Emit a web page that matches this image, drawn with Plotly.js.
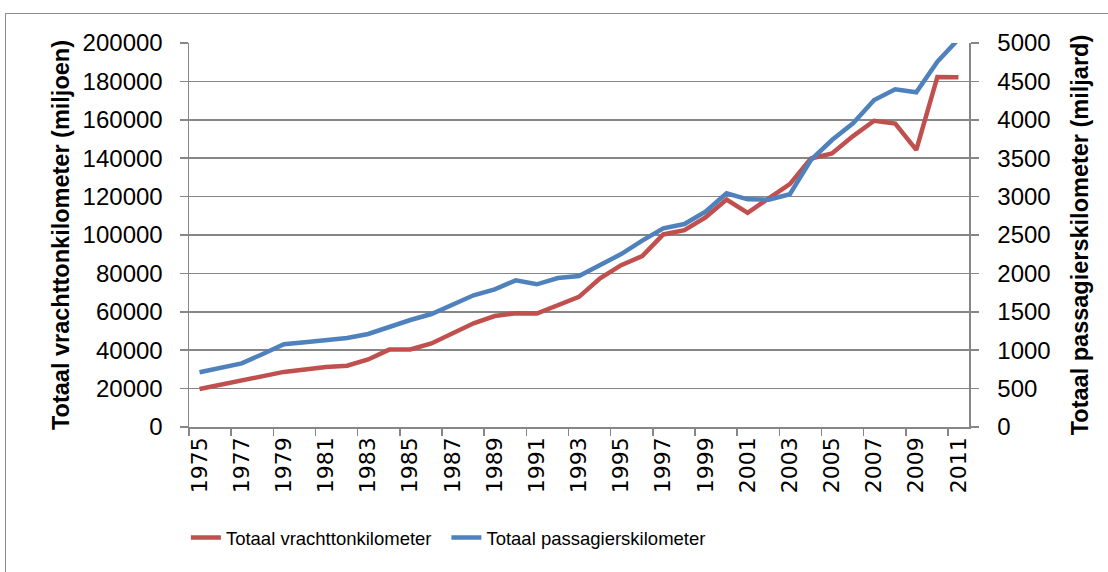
<!DOCTYPE html>
<html>
<head>
<meta charset="utf-8">
<script src="https://cdn.plot.ly/plotly-3.0.1.min.js"></script>
<style>
html,body{margin:0;padding:0;background:#fff;}
#frame{position:absolute;left:5px;top:13px;width:1200px;height:700px;border-left:1px solid #8c8c8c;border-top:1px solid #8c8c8c;pointer-events:none;}
#chart{position:absolute;left:0;top:0;width:1108px;height:572px;}
</style>
</head>
<body>
<div id="chart"></div>
<div id="frame"></div>
<script>
const years = [1975,1976,1977,1978,1979,1980,1981,1982,1983,1984,1985,1986,1987,1988,1989,1990,1991,1992,1993,1994,1995,1996,1997,1998,1999,2000,2001,2002,2003,2004,2005,2006,2007,2008,2009,2010,2011];
const vrachtTonKm = [19800,22000,24300,26500,28700,30000,31300,31900,35200,40300,40400,43500,49000,54000,57800,59200,59100,63500,67800,77400,84300,89000,100300,102500,109200,118500,111500,119100,126500,139800,142500,151500,159500,158000,144300,182300,182200];
const passagiersKm = [712,772,829,950,1077,1103,1133,1160,1211,1306,1393,1471,1600,1715,1793,1910,1858,1940,1966,2115,2252,2426,2587,2643,2803,3043,2965,2960,3030,3476,3737,3954,4258,4397,4358,4757,5050];
const yearLabels = ["1975","1977","1979","1981","1983","1985","1987","1989","1991","1993","1995","1997","1999","2001","2003","2005","2007","2009","2011"];
const labelYears = [1975,1977,1979,1981,1983,1985,1987,1989,1991,1993,1995,1997,1999,2001,2003,2005,2007,2009,2011];
const tickBoundaries = [1974.5,1976.5,1978.5,1980.5,1982.5,1984.5,1986.5,1988.5,1990.5,1992.5,1994.5,1996.5,1998.5,2000.5,2002.5,2004.5,2006.5,2008.5,2010.5];
const leftTicks = [0,20000,40000,60000,80000,100000,120000,140000,160000,180000,200000];
const leftTickText = ["0","20000","40000","60000","80000","100000","120000","140000","160000","180000","200000"];
const rightTicks = [0,500,1000,1500,2000,2500,3000,3500,4000,4500,5000];
const rightTickText = ["0","500","1000","1500","2000","2500","3000","3500","4000","4500","5000"];

const FONT = '"Liberation Sans", Arial, sans-serif';
const LEGFONT = {family: FONT, size: 18.5, color: '#000'};
const traces = [
  {x: years, y: vrachtTonKm, type: 'scatter', mode: 'lines', name: 'Totaal vrachttonkilometer',
   line: {color: '#C0504D', width: 4.5}, xaxis: 'x', yaxis: 'y', legend: 'legend'},
  {x: years, y: passagiersKm, type: 'scatter', mode: 'lines', name: 'Totaal passagierskilometer',
   line: {color: '#4F81BD', width: 4.5}, xaxis: 'x', yaxis: 'y2', legend: 'legend2'}
];
const layout = {
  width: 1108, height: 572,
  margin: {l: 189, r: 139, t: 43, b: 145},
  paper_bgcolor: '#ffffff', plot_bgcolor: '#ffffff',
  font: {family: FONT, color: '#000', size: 19},
  showlegend: true,
  legend: {orientation: 'h', x: -0.004, xanchor: 'left', y: -0.289, yanchor: 'middle',
           font: LEGFONT, bgcolor: 'rgba(0,0,0,0)'},
  legend2: {orientation: 'h', x: 0.33, xanchor: 'left', y: -0.289, yanchor: 'middle',
           font: LEGFONT, bgcolor: 'rgba(0,0,0,0)'},
  xaxis: {type: 'linear', range: [1974.5, 2011.5], tickmode: 'array', tickvals: labelYears, ticktext: yearLabels,
          tickangle: -90, ticks: '', showgrid: false, zeroline: false, showline: true, linecolor: '#868686', linewidth: 1.5,
          tickfont: {family: '"DejaVu Sans", sans-serif', size: 22}, fixedrange: true},
  xaxis2: {type: 'linear', range: [1974.5, 2011.5], overlaying: 'x', anchor: 'y', side: 'bottom', tickmode: 'array',
           tickvals: tickBoundaries, ticks: 'outside', ticklen: 8, tickwidth: 1.5, tickcolor: '#868686',
           showticklabels: false, showgrid: false, zeroline: false, showline: false},
  yaxis: {range: [0, 200000], tickmode: 'array', tickvals: leftTicks, ticktext: leftTickText, ticks: 'outside', ticklen: 8, tickwidth: 1.5,
          tickcolor: '#868686', showgrid: true, gridcolor: '#868686', gridwidth: 1.5, zeroline: false,
          showline: true, linecolor: '#868686', linewidth: 1.5, tickfont: {family: FONT, size: 24}, ticklabelstandoff: 12,
          title: {text: 'Totaal vrachttonkilometer (miljoen)', font: {family: FONT, size: 23.5, weight: 'bold'}, standoff: 6}},
  yaxis2: {range: [0, 5000], overlaying: 'y', side: 'right', anchor: 'x', tickmode: 'array', tickvals: rightTicks, ticktext: rightTickText,
           ticks: 'outside', ticklen: 8, tickwidth: 1.5, tickcolor: '#868686', showgrid: false, zeroline: false,
           showline: true, linecolor: '#868686', linewidth: 1.5, tickfont: {family: FONT, size: 24}, ticklabelstandoff: 14,
           title: {text: 'Totaal passagierskilometer (miljard)', font: {family: FONT, size: 23.5, weight: 'bold'}, standoff: 22}}
};
traces.push({x: [1975], y: [0], xaxis: 'x2', yaxis: 'y', type: 'scatter', mode: 'markers',
             marker: {opacity: 0}, showlegend: false, hoverinfo: 'skip'});
Plotly.newPlot('chart', traces, layout, {staticPlot: true, displayModeBar: false});
</script>
</body>
</html>
